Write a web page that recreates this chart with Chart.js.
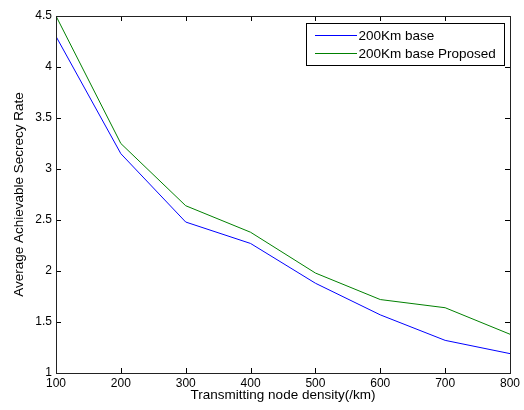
<!DOCTYPE html>
<html>
<head>
<meta charset="utf-8">
<script src="https://cdn.jsdelivr.net/npm/chart.js@4"></script>
<style>
  html, body { margin: 0; padding: 0; background: #fff; }
  #wrap { width: 524px; height: 410px; }
</style>
</head>
<body>
<div id="wrap"><canvas id="graph"></canvas></div>
<script>
const density = [100, 200, 300, 400, 500, 600, 700, 800];
const baseRate = [4.30, 3.15, 2.48, 2.27, 1.88, 1.57, 1.32, 1.19];
const proposedRate = [4.50, 3.25, 2.64, 2.38, 1.98, 1.72, 1.64, 1.38];
const seriesNames = ['200Km base', '200Km base Proposed'];
const seriesColors = ['#0000ff', '#008000'];

const FONT = 'Liberation Sans, Arial, sans-serif';

function points(xs, ys) {
    return xs.map((x, i) => ({ x: x, y: ys[i] }));
}

// matlab style box with inward ticks on all four sides
const boxTicks = {
    id: 'boxTicks',
    afterDraw(chart) {
        const ctx = chart.ctx;
        const a = chart.chartArea;
        const xs = chart.scales.x, ys = chart.scales.y;
        ctx.save();
        ctx.strokeStyle = '#000';
        ctx.lineWidth = 1;
        ctx.beginPath();
        xs.ticks.forEach(t => {
            const px = Math.round(xs.getPixelForValue(t.value)) + 0.5;
            ctx.moveTo(px, a.bottom); ctx.lineTo(px, a.bottom - 5);
            ctx.moveTo(px, a.top); ctx.lineTo(px, a.top + 5);
        });
        ys.ticks.forEach(t => {
            const py = Math.round(ys.getPixelForValue(t.value)) + 0.5;
            ctx.moveTo(a.left, py); ctx.lineTo(a.left + 5, py);
            ctx.moveTo(a.right, py); ctx.lineTo(a.right - 5, py);
        });
        ctx.stroke();
        ctx.strokeStyle = '#222';
        ctx.strokeRect(Math.round(a.left) + 0.5, Math.round(a.top) + 0.5,
            Math.round(a.right - a.left), Math.round(a.bottom - a.top));

        // legend in the top right corner
        const bx = Math.round(a.right) - 203.5, by = Math.round(a.top) + 7.5, bw = 198, bh = 42;
        ctx.fillStyle = '#fff';
        ctx.fillRect(bx, by, bw, bh);
        ctx.strokeStyle = '#000';
        ctx.strokeRect(bx, by, bw, bh);
        ctx.font = '13.5px ' + FONT;
        ctx.textBaseline = 'middle';
        seriesNames.forEach((name, i) => {
            const ly = Math.round(by + 11 + i * 18);
            ctx.fillStyle = seriesColors[i];
            ctx.fillRect(Math.round(bx + 8), ly, 42, 1);
            ctx.fillStyle = '#000';
            ctx.fillText(name, bx + 52, ly + 1);
        });
        ctx.restore();
    }
};

new Chart(document.getElementById('graph').getContext('2d'), {
    type: 'line',
    data: {
        datasets: [{
            label: seriesNames[0],
            data: points(density, baseRate),
            borderColor: seriesColors[0],
            borderWidth: 1,
            pointRadius: 0,
            fill: false
        }, {
            label: seriesNames[1],
            data: points(density, proposedRate),
            borderColor: seriesColors[1],
            borderWidth: 1,
            pointRadius: 0,
            fill: false
        }]
    },
    options: {
        responsive: true,
        maintainAspectRatio: false,
        animation: false,
        layout: { padding: { top: 16, right: 14, left: 0, bottom: 7 } },
        plugins: {
            legend: { display: false },
            tooltip: { enabled: false }
        },
        scales: {
            x: {
                type: 'linear',
                position: 'bottom',
                min: 100,
                max: 800,
                ticks: { stepSize: 100, color: '#000', padding: 3, maxRotation: 0,
                    font: { family: FONT, size: 12 } },
                grid: { display: false, drawTicks: false },
                border: { display: false },
                title: { display: true, text: 'Transmitting node density(/km)', color: '#000',
                    padding: { top: 0, bottom: 0 }, font: { family: FONT, size: 13.5 } },
                afterFit: s => { s.height = 30; }
            },
            y: {
                type: 'linear',
                min: 1,
                max: 4.5,
                ticks: { stepSize: 0.5, color: '#000', padding: 4,
                    callback: v => String(+v.toFixed(1)),
                    font: { family: FONT, size: 12 } },
                grid: { display: false, drawTicks: false },
                border: { display: false },
                title: { display: true, text: 'Average Achievable Secrecy Rate', color: '#000',
                    padding: { top: 11, bottom: 4 }, font: { family: FONT, size: 13.5 } },
                afterFit: s => { s.width = 56; }
            }
        }
    },
    plugins: [boxTicks]
});
</script>
</body>
</html>
